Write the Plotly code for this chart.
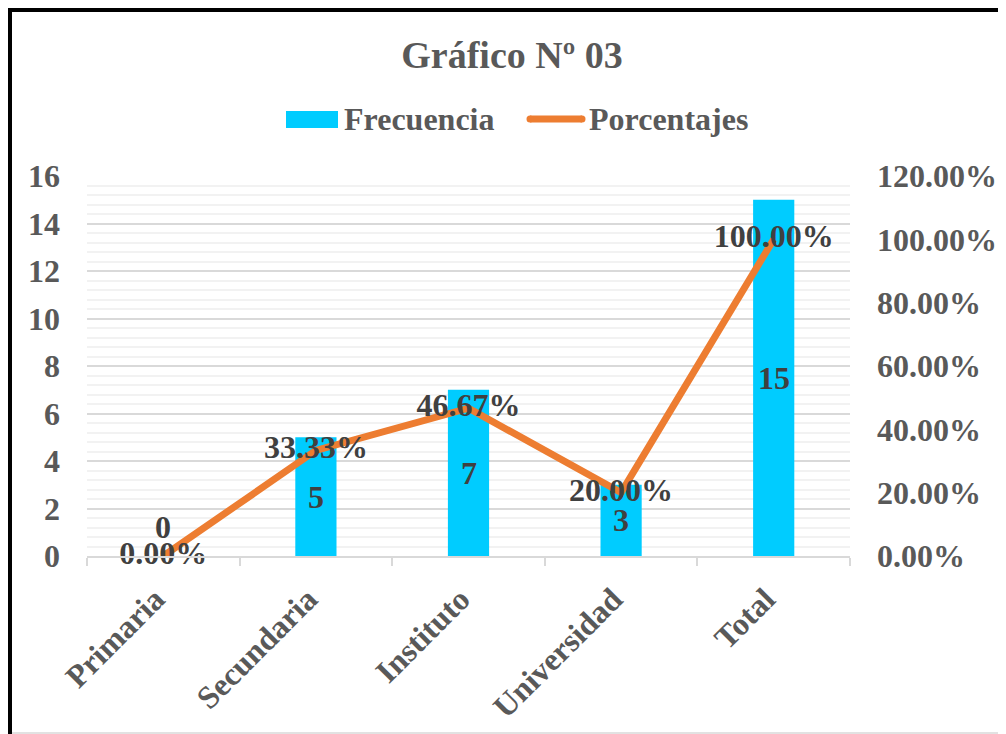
import plotly.graph_objects as go

categories = ["Primaria", "Secundaria", "Instituto", "Universidad", "Total"]
frecuencia = [0, 5, 7, 3, 15]
porcentajes = [0.0, 0.3333, 0.4667, 0.20, 1.00]
pct_labels = ["0.00%", "33.33%", "46.67%", "20.00%", "100.00%"]

OFF = 8  # page body margin
W, H = 1006 - OFF, 734 - OFF
L, T = 87 - OFF, 176 - OFF
PW, PH = 763, 380
R = W - L - PW
B = H - T - PH

FONT = "Liberation Serif, Times New Roman, serif"
GREY = "#595959"
DARK = "#404040"
BLUE = "#00CCFF"
ORANGE = "#ED7D31"

def px_x(px):  # page pixel -> paper x
    return (px - OFF - L) / PW

def px_y(py):  # page pixel -> paper y
    return (T + PH - (py - OFF)) / PH

fig = go.Figure()

fig.add_trace(go.Bar(
    x=categories, y=frecuencia, name="Frecuencia",
    marker=dict(color=BLUE, line=dict(width=0)),
    width=0.27, yaxis="y", showlegend=False,
))

fig.add_trace(go.Scatter(
    x=categories, y=porcentajes, name="Porcentajes",
    mode="lines+text", text=pct_labels, textposition="middle center",
    textfont=dict(family=FONT, size=32, color=DARK, weight="bold"),
    line=dict(color=ORANGE, width=7), yaxis="y2",
    cliponaxis=False, showlegend=False,
))

annotations = []
for c, v in zip(categories, frecuencia):
    annotations.append(dict(
        x=c, y=v / 2, xref="x", yref="y", text=str(v), showarrow=False,
        yshift=29 if v == 0 else 0,
        font=dict(family=FONT, size=32, color=DARK, weight="bold"),
    ))

# legend (manual, to match wide swatches)
legend_font = dict(family=FONT, size=32, color=GREY, weight="bold")
annotations.append(dict(x=px_x(342), y=px_y(119), xref="paper", yref="paper",
                        text="Frecuencia", showarrow=False, xanchor="left",
                        yanchor="middle", font=legend_font))
annotations.append(dict(x=px_x(587), y=px_y(119), xref="paper", yref="paper",
                        text="Porcentajes", showarrow=False, xanchor="left",
                        yanchor="middle", font=legend_font))

shapes = [
    dict(type="line", xref="paper", yref="paper", x0=px_x(9.5), x1=px_x(9.5),
         y0=px_y(7), y1=px_y(740), line=dict(color="black", width=5)),
    dict(type="line", xref="paper", yref="paper", x0=px_x(7), x1=px_x(1010),
         y0=px_y(9.5), y1=px_y(9.5), line=dict(color="black", width=5)),
    dict(type="line", xref="paper", yref="paper", x0=px_x(12), x1=px_x(1010),
         y0=px_y(733), y1=px_y(733), line=dict(color="#D9D9D9", width=1.5)),
    dict(type="rect", xref="paper", yref="paper", x0=px_x(286), x1=px_x(338),
         y0=px_y(128), y1=px_y(111), line=dict(width=0), fillcolor=BLUE),
    dict(type="line", xref="paper", yref="paper", x0=px_x(530), x1=px_x(582),
         y0=px_y(119), y1=px_y(119), line=dict(color=ORANGE, width=7)),
    dict(type="circle", xref="paper", yref="paper", x0=px_x(526.5), x1=px_x(533.5),
         y0=px_y(122.5), y1=px_y(115.5), line=dict(width=0), fillcolor=ORANGE),
    dict(type="circle", xref="paper", yref="paper", x0=px_x(578.5), x1=px_x(585.5),
         y0=px_y(122.5), y1=px_y(115.5), line=dict(width=0), fillcolor=ORANGE),
]

fig.update_layout(
    width=W, height=H,
    margin=dict(l=L, r=R, t=T, b=B, autoexpand=False),
    paper_bgcolor="white", plot_bgcolor="white",
    shapes=shapes, annotations=annotations,
    showlegend=False,
    title=dict(text="Gráfico Nº 03", x=(512 - OFF) / W, xanchor="center",
               y=1 - (55 - OFF) / H, yanchor="middle",
               font=dict(family=FONT, size=38, color=GREY, weight="bold")),
    xaxis=dict(
        type="category", tickangle=-45, tickson="boundaries",
        ticks="outside", ticklen=8, tickcolor="#D9D9D9", tickwidth=1.5,
        showline=True, linecolor="#D9D9D9", linewidth=1.5,
        showgrid=False, ticklabelstandoff=10, ticklabelshift=-8,
        tickfont=dict(family=FONT, size=32, color=GREY, weight="bold"),
    ),
    yaxis=dict(
        range=[0, 16], dtick=2, tick0=0,
        showgrid=True, gridcolor="#D9D9D9", gridwidth=1.5,
        minor=dict(dtick=0.4, showgrid=True, gridcolor="#F2F2F2", gridwidth=1.5),
        zeroline=False, showline=False, ticks="",
        ticklabelstandoff=26,
        tickfont=dict(family=FONT, size=32, color=GREY, weight="bold"),
    ),
    yaxis2=dict(
        range=[0, 1.2], dtick=0.2, tick0=0, tickformat=".2%",
        overlaying="y", side="right", showgrid=False, zeroline=False,
        showline=False, ticks="", ticklabelstandoff=26,
        tickfont=dict(family=FONT, size=32, color=GREY, weight="bold"),
    ),
)

fig.write_html("out.html")
